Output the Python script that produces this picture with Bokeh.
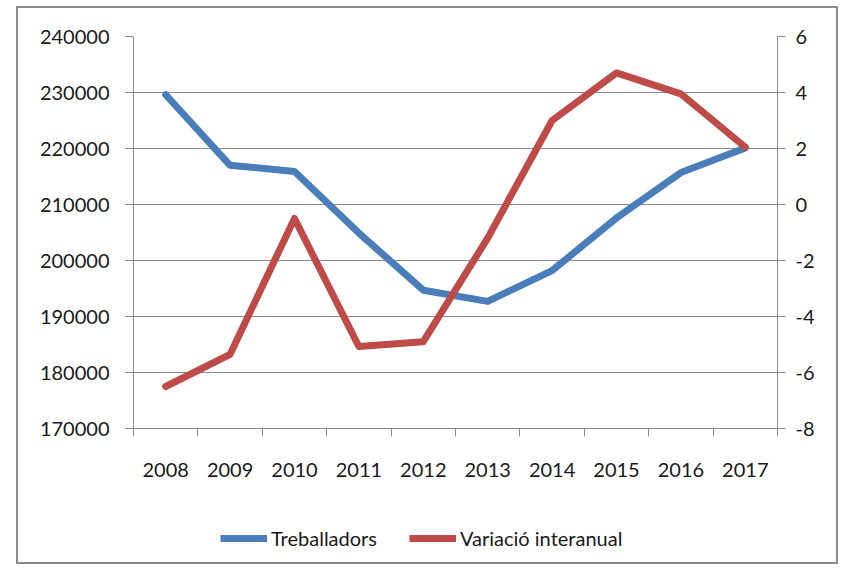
from bokeh.plotting import figure
from bokeh.layouts import column
from bokeh.models import (Range1d, LinearAxis, FixedTicker,
                          CustomJSTickFormatter, Legend, LegendItem)
from bokeh.embed import file_html
from bokeh.resources import INLINE

years = [2008, 2009, 2010, 2011, 2012, 2013, 2014, 2015, 2016, 2017]
treballadors = [229600, 217000, 215900, 204900, 194700, 192700, 198200, 207600, 215700, 220100]
variacio = [-6.5, -5.35, -0.5, -5.07, -4.9, -1.2, 3.0, 4.7, 3.95, 2.05]
left_ticks = [170000, 180000, 190000, 200000, 210000, 220000, 230000, 240000]
right_ticks = [-8, -6, -4, -2, 0, 2, 4, 6]

FONT = "Lato"
GRAY = "#8c8c8c"
TXT = "#1a1a1a"
BLUE = "#4A7EBB"
RED = "#BE4B48"

p = figure(frame_width=644, frame_height=392, output_backend="svg", toolbar_location=None,
           x_range=Range1d(years[0] - 0.5, years[-1] + 0.5),
           y_range=Range1d(left_ticks[0], left_ticks[-1]),
           y_axis_location=None, x_axis_location=None,
           min_border_left=115, min_border_right=59, min_border_top=28,
           min_border_bottom=70)
p.extra_y_ranges = {"var": Range1d(right_ticks[0], right_ticks[-1])}
p.outline_line_color = None
p.background_fill_color = "white"
p.border_fill_color = "white"

plain = CustomJSTickFormatter(code="return String(tick);")

ly = LinearAxis(ticker=FixedTicker(ticks=left_ticks), formatter=plain)
ly.axis_line_color = GRAY
ly.major_tick_line_color = GRAY
ly.major_tick_out = 8
ly.major_tick_in = 0
ly.minor_tick_line_color = None
ly.major_label_standoff = 16
ly.major_label_text_font = FONT
ly.major_label_text_font_size = "20px"
ly.major_label_text_color = TXT
p.add_layout(ly, "left")

ry = LinearAxis(y_range_name="var", ticker=FixedTicker(ticks=right_ticks), formatter=plain)
ry.axis_line_color = GRAY
ry.major_tick_line_color = GRAY
ry.major_tick_out = 8
ry.major_tick_in = 0
ry.minor_tick_line_color = None
ry.major_label_standoff = 10
ry.major_label_text_font = FONT
ry.major_label_text_font_size = "20px"
ry.major_label_text_color = TXT
p.add_layout(ry, "right")

bounds = [y - 0.5 for y in years] + [years[-1] + 0.5]
bx = LinearAxis(ticker=FixedTicker(ticks=years, minor_ticks=bounds), formatter=plain)
bx.axis_line_color = GRAY
bx.major_tick_line_color = None
bx.major_tick_out = 0
bx.major_tick_in = 0
bx.minor_tick_line_color = GRAY
bx.minor_tick_out = 8
bx.minor_tick_in = 0
bx.major_label_standoff = 26
bx.major_label_text_font = FONT
bx.major_label_text_font_size = "20px"
bx.major_label_text_color = TXT
p.add_layout(bx, "below")

p.xgrid.visible = False
p.ygrid.ticker = FixedTicker(ticks=left_ticks)
p.ygrid.grid_line_color = GRAY
p.ygrid.grid_line_width = 1

p.line(years, treballadors, line_color=BLUE, line_width=7,
       line_join="round", line_cap="round")
p.line(years, variacio, y_range_name="var", line_color=RED,
       line_width=7, line_join="round", line_cap="round")

# legend strip underneath the chart (series kept outside its visible x range)
p2 = figure(width=818, height=64, output_backend="svg", toolbar_location=None,
            x_range=Range1d(0, 1), y_range=Range1d(0, 1),
            x_axis_location=None, y_axis_location=None,
            min_border_left=0, min_border_right=0, min_border_top=0,
            min_border_bottom=0)
p2.outline_line_color = None
p2.grid.visible = False
p2.background_fill_color = "white"
p2.border_fill_color = "white"
r1 = p2.line(years, treballadors, line_color=BLUE, line_width=7)
r2 = p2.line(years, variacio, line_color=RED, line_width=7)

legend = Legend(items=[LegendItem(label="Treballadors", renderers=[r1]),
                       LegendItem(label="Variació interanual", renderers=[r2])],
                orientation="horizontal", location=(87, 12))
legend.label_text_font = FONT
legend.label_text_font_size = "20px"
legend.label_text_color = TXT
legend.glyph_width = 47
legend.glyph_height = 20
legend.label_standoff = 4
legend.spacing = 32
legend.padding = 0
legend.margin = 0
legend.border_line_color = None
legend.background_fill_alpha = 0
p2.add_layout(legend, "center")

layout = column(p, p2, spacing=0)
layout.margin = (6, 0, 0, 16)
layout.styles = {"border": "2px solid #8c8c8c", "background-color": "white"}

open("out.html", "w").write(file_html(layout, INLINE))
